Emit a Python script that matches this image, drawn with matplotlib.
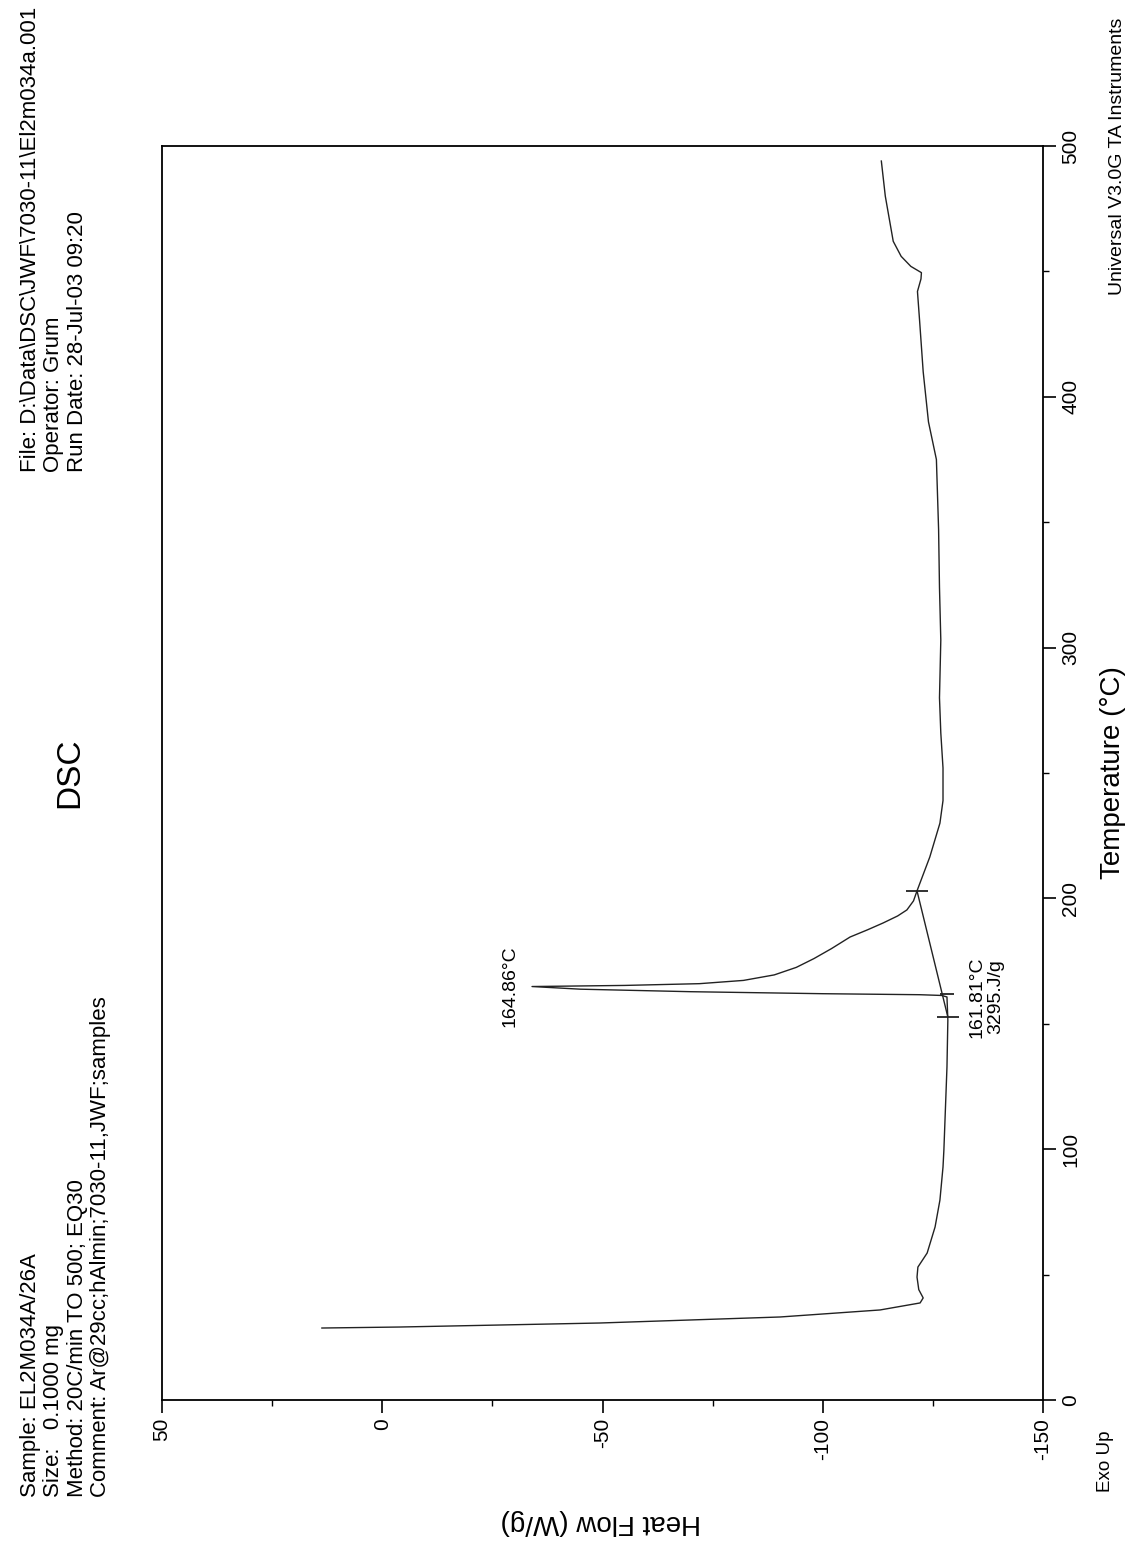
import matplotlib.pyplot as plt
from matplotlib.ticker import MultipleLocator

temp = [28.7, 29.1, 30.7, 33.1, 35.9, 38.7, 40.7, 44.0, 49.0, 53.0, 58.6, 69.0,
        79.7, 92.9, 99.7, 132.8, 151.5, 160.7, 161.3, 161.6, 162.0, 162.8, 163.8,
        164.86, 165.3, 166.0, 167.3, 169.5, 172.5, 176.0, 180.0, 184.6, 187.5,
        190.2, 193.0, 195.4, 199.0, 203.0, 216.5, 230.0, 239.0, 252.0, 266.0,
        280.0, 303.0, 324.0, 347.0, 375.0, 390.0, 410.0, 430.0, 442.0, 447.0,
        449.5, 452.0, 456.0, 462.0, 470.0, 480.0, 494.0]
heat_flow = [13.7, -4.0, -49.4, -90.3, -113.0, -122.1, -122.8, -121.8, -121.4,
             -121.6, -123.7, -125.5, -126.6, -127.3, -127.5, -128.2, -128.4,
             -128.2, -127.0, -122.0, -100.0, -70.0, -45.0, -34.0, -55.0, -72.0,
             -82.0, -89.0, -94.0, -98.0, -102.0, -106.2, -110.2, -113.7, -117.0,
             -119.1, -120.6, -121.4, -124.3, -126.6, -127.3, -127.3, -126.8,
             -126.5, -126.8, -126.5, -126.3, -125.8, -124.0, -122.8, -122.0,
             -121.5, -122.3, -122.4, -120.0, -117.8, -116.0, -115.2, -114.2,
             -113.3]

# integration baseline and its end marks
base_temp = [152.7, 203.0]
base_hf = [-128.4, -121.4]
onset_temp = 161.81
onset_hf = -128.2
peak_temp = 164.86
peak_hf = -34.0

hf_ticks = [50, 0, -50, -100, -150]
temp_ticks = [0, 100, 200, 300, 400, 500]

header_left = ("Sample: EL2M034A/26A\n"
               "Size:   0.1000 mg\n"
               "Method: 20C/min TO 500; EQ30\n"
               "Comment: Ar@29cc;hAlmin;7030-11,JWF;samples")
header_right = ("File: D:\\Data\\DSC\\JWF\\7030-11\\El2m034a.001\n"
                "Operator: Grum\n"
                "Run Date: 28-Jul-03 09:20")

plt.rcParams['font.family'] = ['Liberation Sans', 'DejaVu Sans']

W, H = 1132, 1564
fig = plt.figure(figsize=(W / 100, H / 100), dpi=100)


def fx(px):
    return px / W


def fy(py):
    return 1 - py / H


# page is turned a quarter: heat flow runs along the bottom, temperature up the right
ax = fig.add_axes([fx(162), fy(1400), fx(1043) - fx(162), fy(146) - fy(1400)])
ax.plot(heat_flow, temp, color='#222222', lw=1.0)
ax.plot(base_hf, base_temp, color='#222222', lw=1.0)
ax.plot(base_hf, base_temp, ls='none', marker='_', ms=16, mew=1.3, color='#222222')
ax.plot([onset_hf], [onset_temp], ls='none', marker='_', ms=10, mew=1.3, color='#222222')

ax.text(peak_hf + 3, peak_temp, '%.2f°C' % peak_temp, rotation=90,
        ha='right', va='center', fontsize=14)
ax.text(-137.1, 160.7, '161.81°C\n3295.J/g', rotation=90, ha='center',
        va='center', multialignment='center', fontsize=14, linespacing=1.15)

ax.set_xlim(50, -150)
ax.set_ylim(0, 500)
ax.yaxis.tick_right()
ax.set_xticks(hf_ticks)
ax.set_xticklabels([str(v) for v in hf_ticks], rotation=90, fontsize=15)
ax.set_yticks(temp_ticks)
ax.set_yticklabels([str(v) for v in temp_ticks], rotation=90, va='center', fontsize=15)
ax.xaxis.set_minor_locator(MultipleLocator(25))
ax.yaxis.set_minor_locator(MultipleLocator(50))
ax.tick_params(which='major', direction='out', length=9, width=1.2, pad=4)
ax.tick_params(which='minor', direction='out', length=4.5, width=1.0)
ax.tick_params(axis='y', which='both', left=False, right=True)
ax.tick_params(axis='x', which='both', top=False, bottom=True)
for s in ax.spines.values():
    s.set_linewidth(1.3)

fig.text(fx(1113), fy(773), 'Temperature (°C)', rotation=90, ha='center',
         va='center', fontsize=20)
fig.text(fx(601), fy(1522), 'Heat Flow (W/g)', rotation=180, ha='center',
         va='center', fontsize=20)

fig.text(fx(20), fy(1497), header_left, rotation=90, ha='left', va='bottom',
         multialignment='left', fontsize=16, linespacing=1.15)
fig.text(fx(20), fy(472), header_right, rotation=90, ha='left', va='bottom',
         multialignment='left', fontsize=16, linespacing=1.15)
fig.text(fx(70), fy(773), 'DSC', rotation=90, ha='center', va='center', fontsize=24)

fig.text(fx(1106), fy(1492), 'Exo Up', rotation=90, ha='center', va='bottom', fontsize=13.5)
fig.text(fx(1117), fy(295), 'Universal V3.0G TA Instruments', rotation=90,
         ha='center', va='bottom', fontsize=14)

fig.savefig('out.png', dpi=100)
